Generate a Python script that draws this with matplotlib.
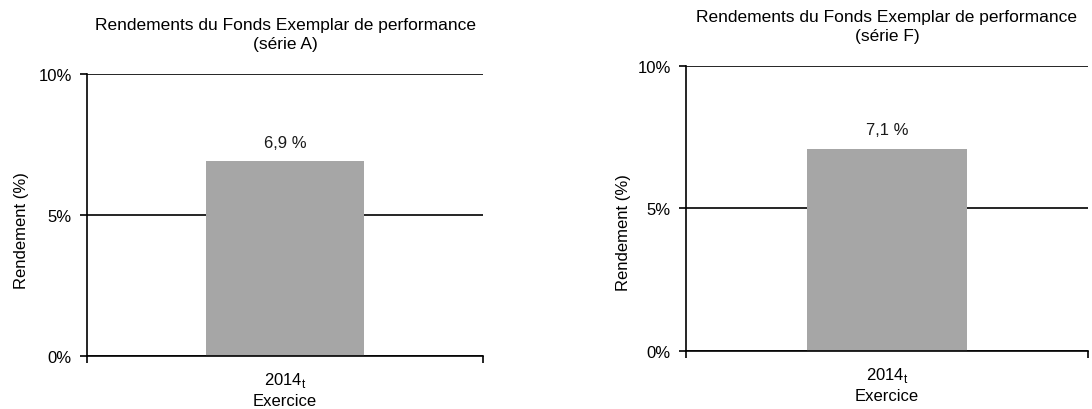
import matplotlib.pyplot as plt

plt.rcParams['font.family'] = ['Liberation Sans', 'DejaVu Sans']

years = ['2014$_{\\mathregular{t}}$']
serie_a = [6.9]
serie_f = [7.1]
titles = ['Rendements du Fonds Exemplar de performance\n(série A)',
          'Rendements du Fonds Exemplar de performance\n(série F)']
yticks = [0, 5, 10]
ytick_labels = ['0%', '5%', '10%']

fig = plt.figure(figsize=(10.92, 4.10), dpi=100)
ax1 = fig.add_axes([0.0797, 0.1293, 0.3626, 0.6878])
ax2 = fig.add_axes([0.6282, 0.1415, 0.3681, 0.6951])

fs = 12
panels = [(ax1, serie_a, titles[0], (-0.146, 0.45)),
          (ax2, serie_f, titles[1], (-0.136, 0.42))]
for ax, vals, title, ylab_pos in panels:
    x = list(range(len(vals)))
    ax.bar(x, vals, width=0.4, color='#a6a6a6', zorder=2)
    for xi, v in zip(x, vals):
        ax.text(xi, v + 0.4, f'{v:.1f} %'.replace('.', ','), ha='center', va='bottom',
                fontsize=fs, color='#1a1a1a')
    ax.set_xlim(-0.5, len(vals) - 0.5)
    ax.set_ylim(0, 10)
    ax.set_yticks(yticks)
    ax.set_yticklabels(ytick_labels, fontsize=fs)
    ax.set_xticks([-0.5, 0.5], minor=False)
    ax.set_xticklabels(['', ''])
    ax.set_xticks(x, minor=True)
    ax.set_xticklabels(years, minor=True, fontsize=fs)
    ax.tick_params(axis='x', which='minor', length=0, pad=10)
    ax.tick_params(axis='x', which='major', length=5, width=1.2, direction='out')
    ax.tick_params(axis='y', length=5, width=1.2, direction='out', pad=6)
    ax.grid(axis='y', color='black', linewidth=1.2, zorder=1)
    for s in ['top', 'right']:
        ax.spines[s].set_visible(False)
    for s in ['left', 'bottom']:
        ax.spines[s].set_linewidth(1.2)
    ax.set_xlabel('Exercice', fontsize=fs, labelpad=3)
    ax.set_ylabel('Rendement (%)', fontsize=fs)
    ax.yaxis.set_label_coords(*ylab_pos)
    ax.set_title(title, fontsize=12.5, pad=19, linespacing=1.3)

fig.savefig('out.png', dpi=100)
